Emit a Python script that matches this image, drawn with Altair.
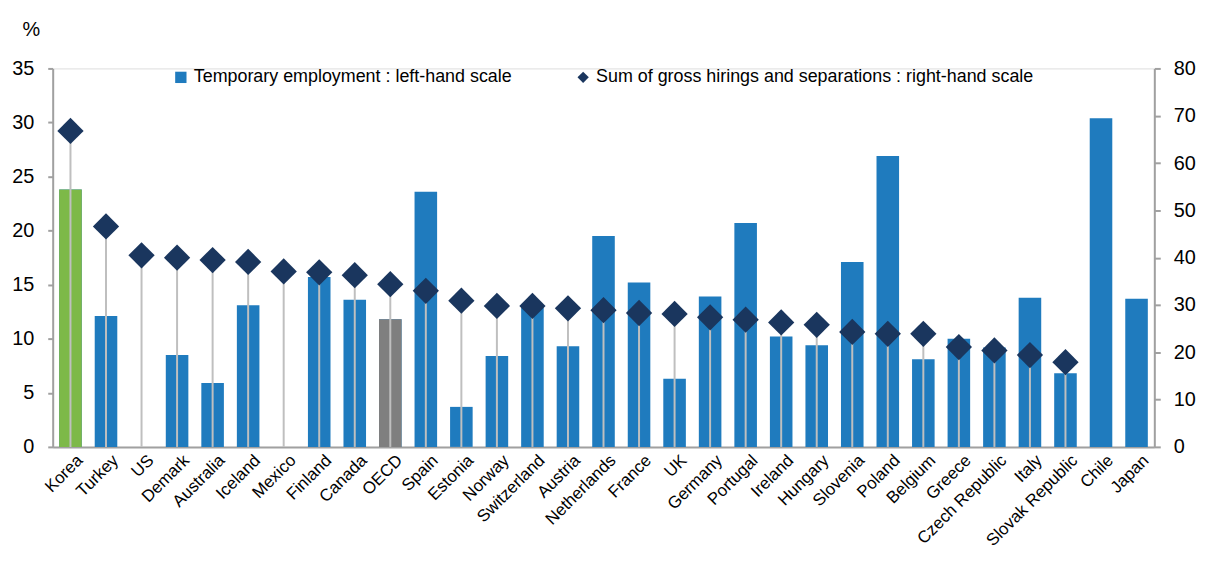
import altair as alt
import pandas as pd

countries = ["Korea", "Turkey", "US", "Demark", "Australia", "Iceland", "Mexico", "Finland",
             "Canada", "OECD", "Spain", "Estonia", "Norway", "Switzerland", "Austria",
             "Netherlands", "France", "UK", "Germany", "Portugal", "Ireland", "Hungary",
             "Slovenia", "Poland", "Belgium", "Greece", "Czech Republic", "Italy",
             "Slovak Republic", "Chile", "Japan"]
temporary = [23.8, 12.1, None, 8.5, 5.9, 13.1, None, 15.7, 13.6, 11.8, 23.6, 3.7, 8.4, 12.9,
             9.3, 19.5, 15.2, 6.3, 13.9, 20.7, 10.2, 9.4, 17.1, 26.9, 8.1, 10.0, 9.2, 13.8,
             6.8, 30.4, 13.7]
flows = [66.8, 46.6, 40.5, 40.0, 39.5, 39.1, 37.1, 36.9, 36.3, 34.4, 33.0, 30.9, 29.8, 29.8,
         29.3, 28.9, 28.3, 28.1, 27.4, 26.9, 26.3, 25.8, 24.3, 23.9, 23.9, 21.1, 20.4, 19.4,
         17.9, None, None]
left_ticks = [0, 5, 10, 15, 20, 25, 30, 35]
right_ticks = [0, 10, 20, 30, 40, 50, 60, 70, 80]

LEG1 = "Temporary employment : left-hand scale"
LEG2 = "Sum of gross hirings and separations : right-hand scale"

BLUE = "#1f7bbe"
GREEN = "#7db948"
GREY = "#7f7f7f"
NAVY = "#1a365e"
AXIS = "#a0a0a0"

df = pd.DataFrame({"country": countries, "temp": temporary, "flows": flows})

color_scale = alt.Scale(domain=[LEG1, LEG2], range=[BLUE, NAVY])
shape_scale = alt.Scale(domain=[LEG1, LEG2], range=["square", "diamond"])
legend = alt.Legend(title=None, orient="none", legendX=120, legendY=0, direction="horizontal",
                    columnPadding=62, labelFontSize=18, labelOffset=4, symbolSize=130,
                    labelLimit=0, labelColor="#000000", symbolStrokeWidth=0)

x_enc = alt.X("country:N", sort=countries,
              scale=alt.Scale(paddingInner=0.365, paddingOuter=0.1825),
              axis=alt.Axis(title=None, labelAngle=-45, labelFontSize=17, ticks=False,
                            labelPadding=5, labelOffset=4, domainColor=AXIS, domainWidth=2,
                            labelColor="#000000", labelLimit=0))

y_left = alt.Y("temp:Q", scale=alt.Scale(domain=[0, 35], nice=False),
               axis=alt.Axis(values=left_ticks, title="%", titleAngle=0, titleX=-22,
                             titleY=-39, titleAlign="center", titleBaseline="middle",
                             titleFontSize=20, titleFontWeight="normal", titleColor="#000000",
                             labelFontSize=20, labelPadding=14, tickSize=5, tickColor=AXIS,
                             tickWidth=2, domainColor=AXIS, domainWidth=2, grid=False,
                             labelColor="#000000"))

bars = alt.Chart(df).transform_calculate(series=f"'{LEG1}'").mark_bar().encode(
    x=x_enc, y=y_left,
    color=alt.Color("series:N", scale=color_scale, legend=legend),
)
korea = alt.Chart(df).transform_filter(alt.datum.country == "Korea").mark_bar(
    color=GREEN).encode(x=x_enc, y=y_left)
oecd = alt.Chart(df).transform_filter(alt.datum.country == "OECD").mark_bar(
    color=GREY).encode(x=x_enc, y=y_left)

left_layer = alt.layer(bars, korea, oecd)

y_right = alt.Y("flows:Q", scale=alt.Scale(domain=[0, 80], nice=False),
                axis=alt.Axis(orient="right", values=right_ticks, title=None,
                              labelFontSize=20, labelPadding=13, tickSize=6, tickColor=AXIS,
                              tickWidth=2, domainColor=AXIS, domainWidth=2, grid=False,
                              labelColor="#000000"))

rules = alt.Chart(df).mark_rule(color="#bfbfbf", strokeWidth=2).encode(
    x=x_enc, y=y_right, y2=alt.datum(0))
points = alt.Chart(df).transform_calculate(series=f"'{LEG2}'").mark_point(
    filled=True, size=700, opacity=1).encode(
    x=x_enc, y=y_right,
    color=alt.Color("series:N", scale=color_scale, legend=legend),
    shape=alt.Shape("series:N", scale=shape_scale, legend=legend),
)
right_layer = alt.layer(rules, points)

chart = alt.layer(left_layer, right_layer).resolve_scale(y="independent").properties(
    width=1109, height=381,
    autosize=alt.AutoSizeParams(type="none"),
    padding={"left": 45, "top": 59, "right": 47, "bottom": 107},
).configure_view(stroke=None).configure(font="Liberation Sans")

chart.save("out.html", embed_options={"renderer": "svg", "actions": False})
